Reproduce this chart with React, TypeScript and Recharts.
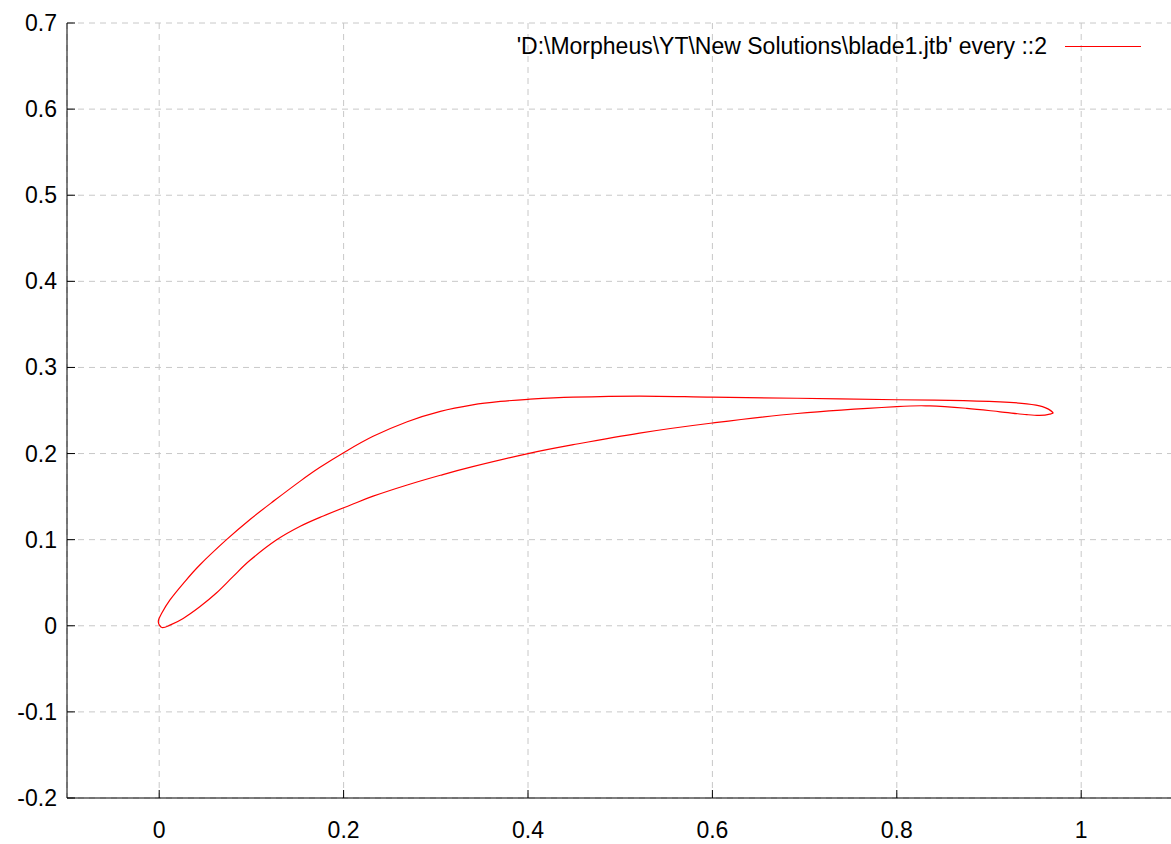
import { LineChart, Line, XAxis, YAxis, CartesianGrid } from 'recharts'

// blade outline, traced trailing edge -> upper surface -> leading edge -> lower surface -> trailing edge
const bladeX = [
  0.969, 0.958, 0.941, 0.912, 0.857, 0.8, 0.692, 0.6, 0.521, 0.449, 0.4, 0.37, 0.34, 0.305, 0.269, 0.232,
  0.2, 0.174, 0.153, 0.1256, 0.0985, 0.073, 0.044, 0.026, 0.0117, 0.0027, -0.001, 0.003, 0.0117, 0.026,
  0.044, 0.062, 0.08, 0.0985, 0.127, 0.153, 0.178, 0.207, 0.232, 0.269, 0.305, 0.34, 0.4, 0.449, 0.521,
  0.6, 0.692, 0.8, 0.836, 0.876, 0.912, 0.941, 0.955, 0.966, 0.969,
]
const bladeY = [
  0.248, 0.2545, 0.2578, 0.26, 0.2618, 0.2625, 0.2642, 0.2655, 0.2668, 0.2655, 0.263, 0.2605, 0.2565,
  0.249, 0.237, 0.22, 0.201, 0.1837, 0.168, 0.146, 0.1235, 0.1, 0.0706, 0.049, 0.03, 0.0145, 0.005, -0.002,
  0.0007, 0.0085, 0.022, 0.038, 0.057, 0.076, 0.0995, 0.1155, 0.1275, 0.14, 0.1505, 0.1635, 0.1748, 0.1848,
  0.2, 0.2103, 0.2238, 0.2355, 0.2465, 0.2545, 0.2553, 0.2525, 0.2485, 0.2452, 0.2443, 0.2458, 0.248,
]
const xTicks = [0, 0.2, 0.4, 0.6, 0.8, 1]
const yTicks = [-0.2, -0.1, 0, 0.1, 0.2, 0.3, 0.4, 0.5, 0.6, 0.7]
const seriesName = "'D:\\Morpheus\\YT\\New Solutions\\blade1.jtb' every ::2"

const data = bladeX.map((x, i) => ({ x, y: bladeY[i] }))

const W = 1171
const H = 844
const CHART_W = 1174
const LEFT = 67
const RIGHT = 1173.4
const TOP = 23
const BOTTOM = 798
const FONT = "'Liberation Sans', Arial, Helvetica, sans-serif"

const fmt = (v: number) => String(Math.round(v * 10) / 10)

// closed catmull-rom curve (the outline starts and ends at the same point)
function closedCatmullRom(context: any) {
  let pts: number[][] = []
  return {
    areaStart() {},
    areaEnd() {},
    lineStart() {
      pts = []
    },
    point(x: number, y: number) {
      pts.push([+x, +y])
    },
    lineEnd() {
      const n = pts.length
      if (!n) return
      context.moveTo(pts[0][0], pts[0][1])
      for (let i = 0; i < n - 1; i++) {
        const p0 = i > 0 ? pts[i - 1] : pts[n - 2] || pts[0]
        const p1 = pts[i]
        const p2 = pts[i + 1]
        const p3 = i + 2 < n ? pts[i + 2] : pts[1] || p2
        context.bezierCurveTo(
          p1[0] + (p2[0] - p0[0]) / 6,
          p1[1] + (p2[1] - p0[1]) / 6,
          p2[0] - (p3[0] - p1[0]) / 6,
          p2[1] - (p3[1] - p1[1]) / 6,
          p2[0],
          p2[1]
        )
      }
    },
  }
}

function LeftTick(props: any) {
  const { y, payload } = props
  return (
    <g>
      <line x1={LEFT} x2={LEFT + 8} y1={y} y2={y} stroke="#000" />
      <text x={LEFT - 10} y={y} dy={8} textAnchor="end" fontSize={23} fontFamily={FONT} fill="#000">
        {fmt(payload.value)}
      </text>
    </g>
  )
}

function RightTick(props: any) {
  const { y } = props
  return <line x1={RIGHT - 8} x2={RIGHT} y1={y} y2={y} stroke="#000" />
}

function BottomTick(props: any) {
  const { x, payload } = props
  return (
    <g>
      <line x1={x} x2={x} y1={BOTTOM} y2={BOTTOM - 8} stroke="#000" />
      <text x={x} y={838} textAnchor="middle" fontSize={23} fontFamily={FONT} fill="#000">
        {fmt(payload.value)}
      </text>
    </g>
  )
}

function TopTick(props: any) {
  const { x } = props
  return <line x1={x} x2={x} y1={TOP} y2={TOP + 8} stroke="#000" />
}

export default function App() {
  return (
    <div style={{ position: 'absolute', left: 0, top: 0, width: W, height: H, background: '#fff', overflow: 'hidden' }}>
      <LineChart width={CHART_W} height={H} data={data} margin={{ top: TOP, right: CHART_W - RIGHT, bottom: 0, left: 0 }}>
        <CartesianGrid stroke="#c8c8c8" strokeDasharray="6 5" />
        <XAxis
          dataKey="x"
          type="number"
          domain={[-0.1, 1.1]}
          ticks={xTicks}
          height={H - BOTTOM}
          axisLine={{ stroke: '#000' }}
          tickLine={false}
          tick={<BottomTick />}
          interval={0}
        />
        <XAxis
          xAxisId="top"
          orientation="top"
          type="number"
          domain={[-0.1, 1.1]}
          ticks={xTicks}
          height={0}
          axisLine={{ stroke: '#000' }}
          tickLine={false}
          tick={<TopTick />}
          interval={0}
        />
        <YAxis
          type="number"
          domain={[-0.2, 0.7]}
          ticks={yTicks}
          width={LEFT}
          axisLine={{ stroke: '#000' }}
          tickLine={false}
          tick={<LeftTick />}
          interval={0}
        />
        <YAxis
          yAxisId="right"
          orientation="right"
          type="number"
          domain={[-0.2, 0.7]}
          ticks={yTicks}
          width={0}
          axisLine={{ stroke: '#000' }}
          tickLine={false}
          tick={<RightTick />}
          interval={0}
        />
        <Line
          dataKey="y"
          type={closedCatmullRom as any}
          stroke="#ff0000"
          strokeWidth={1.2}
          dot={false}
          isAnimationActive={false}
        />
      </LineChart>
      <div
        style={{
          position: 'absolute',
          top: 33,
          right: W - 1141,
          display: 'flex',
          alignItems: 'center',
          fontFamily: FONT,
          fontSize: 23,
          color: '#000',
          whiteSpace: 'nowrap',
        }}
      >
        <span>{seriesName}</span>
        <span style={{ display: 'inline-block', width: 76, height: 0, borderTop: '1px solid #ff0000', marginLeft: 18 }} />
      </div>
    </div>
  )
}
